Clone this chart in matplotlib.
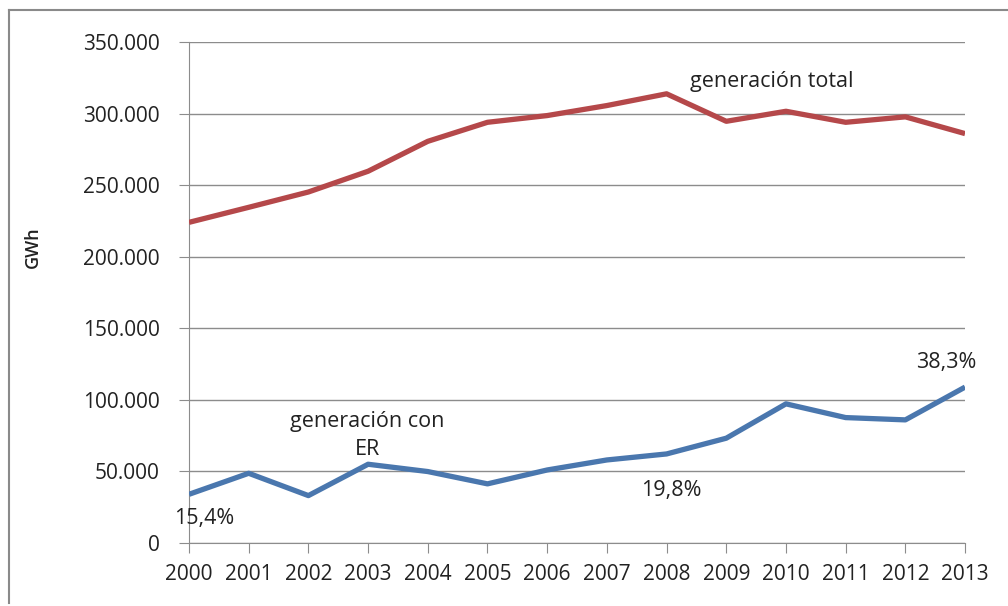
import matplotlib.pyplot as plt
from matplotlib.ticker import FuncFormatter
from matplotlib.lines import Line2D

years = [2000, 2001, 2002, 2003, 2004, 2005, 2006, 2007, 2008, 2009, 2010, 2011, 2012, 2013]
total_gwh = [224000, 234500, 245200, 259700, 280600, 293900, 298600,
             305600, 313800, 294600, 301600, 293900, 297700, 286000]
renewable_gwh = [34000, 48700, 33100, 55000, 49900, 41300, 51000,
                 58000, 62200, 73200, 97200, 87600, 86000, 108900]
yticks = [0, 50000, 100000, 150000, 200000, 250000, 300000, 350000]

plt.rcParams['font.family'] = ['Open Sans', 'DejaVu Sans']

fig = plt.figure(figsize=(10.08, 6.06), dpi=100)
ax = fig.add_axes([0.1875, 0.104, 0.7699, 0.8267])

grid_color = '#8c8c8c'
ax.plot(years, total_gwh, color='#B5484A', linewidth=3.8, solid_capstyle='butt', zorder=3)
ax.plot(years, renewable_gwh, color='#4A77AE', linewidth=3.8, solid_capstyle='butt', zorder=3)

ax.set_xlim(years[0], years[-1])
ax.set_ylim(0, 350000)
ax.set_xticks(years)
ax.set_yticks(yticks)
ax.yaxis.set_major_formatter(FuncFormatter(lambda v, p: f'{int(v):,}'.replace(',', '.')))
ax.grid(axis='y', color=grid_color, linewidth=1)
ax.set_axisbelow(True)

for side in ['top', 'right']:
    ax.spines[side].set_visible(False)
for side in ['left', 'bottom']:
    ax.spines[side].set_color(grid_color)
ax.tick_params(axis='both', direction='out', length=7, color=grid_color,
               labelsize=15, labelcolor='#222222')
ax.tick_params(axis='y', pad=14)
ax.tick_params(axis='x', pad=8)
ax.set_ylabel('GWh', fontsize=13, fontweight='semibold', color='#222222')
ax.yaxis.set_label_coords(-0.19, 0.59)

# series annotations
txt = dict(fontsize=15.5, color='#222222', ha='center', va='center')
ax.text(2009.77, 322400, 'generación total', **txt)
ax.text(2002.99, 75200, 'generación con\nER', linespacing=1.45, **txt)
ax.text(2000.25, 16800, '15,4%', **txt)
ax.text(2008.08, 36600, '19,8%', **txt)
ax.text(2012.68, 125900, '38,3%', **txt)

# outer chart frame
frame_color = '#8a8a8a'
fig.add_artist(Line2D([9 / 1008, 9 / 1008], [1 - 10 / 606, 1 - 603 / 606],
                      transform=fig.transFigure, color=frame_color, linewidth=1.5))
fig.add_artist(Line2D([9 / 1008, 1.0], [1 - 10 / 606, 1 - 10 / 606],
                      transform=fig.transFigure, color=frame_color, linewidth=1.5))

fig.savefig('out.png', dpi=100)
